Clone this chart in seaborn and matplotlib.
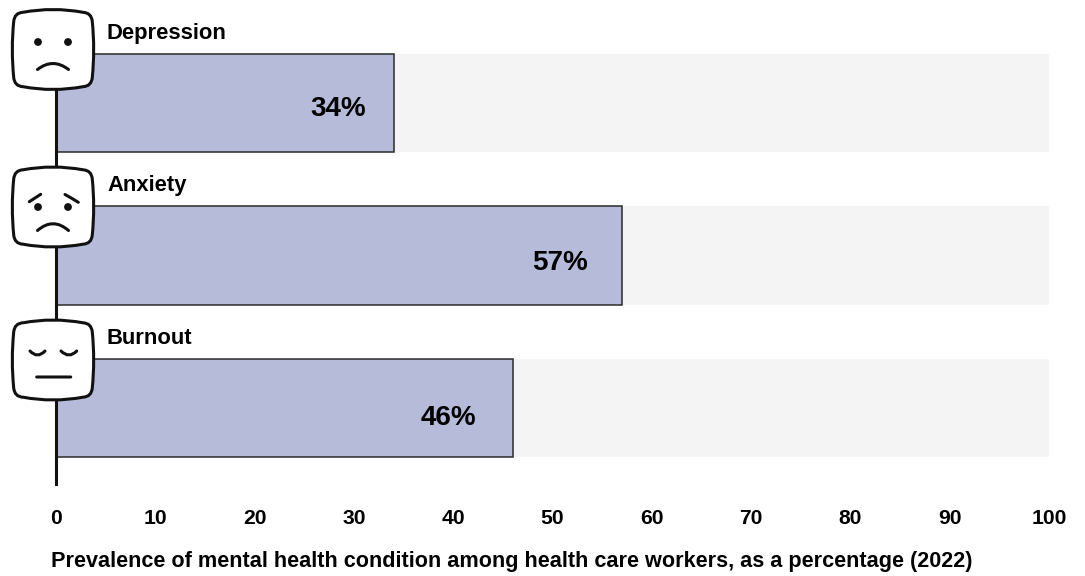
import matplotlib
matplotlib.use('Agg')
import matplotlib.pyplot as plt
import seaborn as sns
from matplotlib.patches import PathPatch, Circle
from matplotlib.path import Path

conditions = ['Depression', 'Anxiety', 'Burnout']
prevalence = [34, 57, 46]
full_scale = [100, 100, 100]
x_ticks = [0, 10, 20, 30, 40, 50, 60, 70, 80, 90, 100]
x_title = 'Prevalence of mental health condition among health care workers, as a percentage (2022)'

W, H = 1085, 576
sns.set_theme(style='white')
plt.rcParams['font.family'] = ['Liberation Sans', 'DejaVu Sans']

fig = plt.figure(figsize=(W / 100, H / 100), dpi=100)

# axes placed in pixels: 0 at x=56, 100 at x=1049, axis line ends at y=484
top, bottom = 30, 484
ax = fig.add_axes([56 / W, 1 - bottom / H, (1049 - 56) / W, (bottom - top) / H])

sns.barplot(x=full_scale, y=conditions, orient='h', color='#f4f4f4', width=0.643,
            saturation=1, linewidth=0, ax=ax)
sns.barplot(x=prevalence, y=conditions, orient='h', color='#b6bbda', width=0.643,
            saturation=1, edgecolor='#2b2b2b', linewidth=1.1, ax=ax)

ax.set_xlim(0, 100)
ax.set_ylim((bottom - 103) / 152.5, (top - 103) / 152.5)
ax.set_xticks(x_ticks)
ax.set_yticks([])
ax.set_xlabel('')
ax.set_ylabel('')
ax.tick_params(axis='x', length=0, pad=18, labelsize=15.2)
for t in ax.get_xticklabels():
    t.set_fontweight('bold')
    t.set_color('black')
sns.despine(ax=ax, top=True, right=True, bottom=True)
ax.spines['left'].set_color('#111111')
ax.spines['left'].set_linewidth(2.2)

# percentage labels sit a little left of the bar end and below centre
shift_x = [5.6, 6.2, 6.5]
shift_y = [0.04, 0.05, 0.065]
for i, v in enumerate(prevalence):
    ax.text(v - shift_x[i], i + shift_y[i], f'{v}%', ha='center', va='center',
            fontsize=20, fontweight='bold', color='black')

fig.text(51 / W, 1 - 561.5 / H, x_title, ha='left', va='center', fontsize=15.6,
         fontweight='bold', color='black')

# overlay in pixel coordinates for the face icons and row names
ov = fig.add_axes([0, 0, 1, 1], zorder=5)
ov.set_xlim(0, W)
ov.set_ylim(H, 0)
ov.axis('off')
ov.patch.set_alpha(0)


def curve(ox, oy, p0, c, p1, lw=2.2):
    pts = [(ox + a, oy + b) for a, b in (p0, c, p1)]
    ov.add_patch(PathPatch(Path(pts, [Path.MOVETO, Path.CURVE3, Path.CURVE3]),
                           fc='none', ec='#111111', lw=lw, capstyle='round'))


def face_box(cx, cy, hw=40.5, hh=40):
    # bulged square with rounded corners
    nodes = [(-.74, -.93), (0, -1.07), (.74, -.93), (.95, -.92), (.97, -.7), (1.04, 0), (.97, .7),
             (.95, .92), (.74, .93), (0, 1.07), (-.74, .93), (-.95, .92), (-.97, .7), (-1.04, 0),
             (-.97, -.7), (-.95, -.92), (-.74, -.93)]
    pts = [(cx + a * hw, cy + b * hh) for a, b in nodes]
    codes = [Path.MOVETO] + [Path.CURVE3] * (len(pts) - 1)
    ov.add_patch(PathPatch(Path(pts, codes), fc='white', ec='#111111', lw=2.2))


def eyes(cx, cy, dy):
    for dx in (-15, 15):
        ov.add_patch(Circle((cx + dx, cy + dy), 3.9, fc='#111111', ec='none'))


cx = 53
face_y = [49.5, 207, 360]
for cy in face_y:
    face_box(cx, cy)

eyes(cx, face_y[0], -7.5)
curve(cx, face_y[0], (-15.5, 20), (0, 8), (15.5, 20))

eyes(cx, face_y[1], 0)
curve(cx, face_y[1], (-23.7, -5.3), (-18, -9), (-12.3, -12.7))
curve(cx, face_y[1], (12, -12.5), (18.5, -9), (25.3, -4.7))
curve(cx, face_y[1], (-15.5, 23.5), (0, 10), (15.5, 23.5))

curve(cx, face_y[2], (-23, -9), (-15.5, -1), (-8, -9))
curve(cx, face_y[2], (8, -9), (16, -1), (23.7, -9))
curve(cx, face_y[2], (-16.3, 17), (0, 17), (17.7, 17))

name_y = [33, 184, 338]
for name, y in zip(conditions, name_y):
    ov.text(107, y + 1, name, ha='left', va='center', fontsize=15.8, fontweight='bold', color='black')

fig.savefig('out.png', dpi=100)
